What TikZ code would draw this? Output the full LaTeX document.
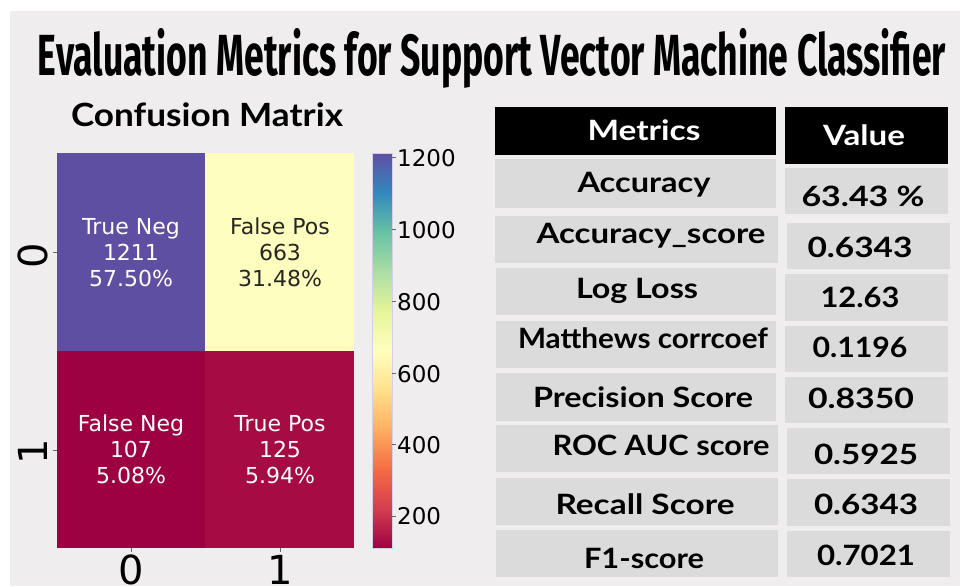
\documentclass[tikz,border=0pt]{standalone}
\usepackage{fontspec}
\usepackage{graphicx}
\setmainfont{DejaVu Sans}
\newfontfamily\titlefont{Fira Sans}
\newfontfamily\tabfont{Lato}

% Spectral colour map stops
\definecolor{sp0}{HTML}{9E0142}
\definecolor{sp1}{HTML}{D53E4F}
\definecolor{sp2}{HTML}{F46D43}
\definecolor{sp3}{HTML}{FDAE61}
\definecolor{sp4}{HTML}{FEE08B}
\definecolor{sp5}{HTML}{FFFFBF}
\definecolor{sp6}{HTML}{E6F598}
\definecolor{sp7}{HTML}{ABDDA4}
\definecolor{sp8}{HTML}{66C2A5}
\definecolor{sp9}{HTML}{3288BD}
\definecolor{sp10}{HTML}{5E4FA2}
\definecolor{tncol}{HTML}{5E4FA2}
\definecolor{fpcol}{HTML}{FEFEBE}
\definecolor{fncol}{HTML}{9E0142}
\definecolor{tpcol}{HTML}{A70B44}
\definecolor{panel}{HTML}{EFEDEE}
\definecolor{cellgray}{HTML}{DCDBDB}
\definecolor{darktext}{HTML}{262626}
\definecolor{barframe}{HTML}{D4CFE3}

\newcommand\fitto[2]{\resizebox{#1pt}{\height}{#2}}

\begin{document}
\begin{tikzpicture}[x=1pt,y=-1pt,
  hmtext/.style={anchor=base,inner sep=0pt,font=\fontsize{22}{26}\selectfont},
  ticklbl/.style={inner sep=0pt,font=\fontsize{40}{44}\selectfont},
  cbarlbl/.style={anchor=base west,inner sep=0pt,font=\fontsize{23}{26}\selectfont},
  tickmark/.style={draw=darktext!70,line width=0.8pt},
  cellbox/.style={fill=cellgray},
  headbox/.style={fill=black},
  tabtext/.style={anchor=base,inner sep=0pt,font=\tabfont\bfseries\fontsize{28}{30}\selectfont},
  headtext/.style={tabtext,text=white}]
\useasboundingbox (0,0) rectangle (960,586);
\fill[white] (0,0) rectangle (960,586);
\fill[panel] (10,11) rectangle (960,586);

% title and subtitle
\node[anchor=base,inner sep=0pt,font=\titlefont\bfseries\fontsize{58}{60}\selectfont]
  (title) at (492,75) {\fitto{908}{Evaluation Metrics for Support Vector Machine Classifier}};
\node[anchor=base,inner sep=0pt,font=\tabfont\bfseries\fontsize{32}{34}\selectfont]
  (cmtitle) at (207,126) {\fitto{272}{Confusion Matrix}};

% confusion matrix cells
\fill[tncol] (57,153) rectangle (205.5,351.5);
\fill[fpcol] (205,153) rectangle (354,351.5);
\fill[fncol] (57,351) rectangle (205.5,548);
\fill[tpcol] (205,351) rectangle (354,548);

\node[hmtext,text=white] (tn1) at (131,234) {True Neg};
\node[hmtext,text=white] (tn2) at (131,260) {1211};
\node[hmtext,text=white] (tn3) at (131,286) {57.50\%};
\node[hmtext,text=darktext] (fp1) at (280,234) {False Pos};
\node[hmtext,text=darktext] (fp2) at (280,260) {663};
\node[hmtext,text=darktext] (fp3) at (280,286) {31.48\%};
\node[hmtext,text=white] (fn1) at (131,431) {False Neg};
\node[hmtext,text=white] (fn2) at (131,457) {107};
\node[hmtext,text=white] (fn3) at (131,483) {5.08\%};
\node[hmtext,text=white] (tp1) at (280,431) {True Pos};
\node[hmtext,text=white] (tp2) at (280,457) {125};
\node[hmtext,text=white] (tp3) at (280,483) {5.94\%};

% axis ticks and labels
\draw[tickmark] (131,548) -- (131,552);
\draw[tickmark] (280,548) -- (280,552);
\draw[tickmark] (53,252) -- (57,252);
\draw[tickmark] (53,450) -- (57,450);
\node[ticklbl,anchor=base] (xt0) at (131,584) {0};
\node[ticklbl,anchor=base] (xt1) at (280,584) {1};
\node[ticklbl,anchor=base,rotate=90] (yt0) at (47,256) {0};
\node[ticklbl,anchor=base,rotate=90] (yt1) at (47,452) {1};

% colour bar
\foreach \i [evaluate=\i as \j using int(\i+1)] in {0,...,9}{
  \shade[bottom color=sp\i, top color=sp\j]
    (372,{min(548,548-39.5*\i+0.3)}) rectangle (392,{max(153,548-39.5*(\i+1)-0.3)});
}
\draw[draw=barframe,line width=0.5pt] (372,153) rectangle (392,548);
\foreach \v/\yy in {1200/157,1000/229,800/301,600/373,400/444,200/516}{
  \draw[tickmark] (392,\yy) -- (396,\yy);
}
\node[cbarlbl] (cb1200) at (397,166) {1200};
\node[cbarlbl] (cb1000) at (397,238) {1000};
\node[cbarlbl] (cb800) at (397,310) {800};
\node[cbarlbl] (cb600) at (397,382) {600};
\node[cbarlbl] (cb400) at (397,453) {400};
\node[cbarlbl] (cb200) at (397,524) {200};

% metrics table: header
\fill[headbox] (495,107) rectangle (776,155);
\fill[headbox] (785,107) rectangle (948,164);
\node[headtext] (hm) at (644,140) {\fitto{113}{Metrics}};
\node[headtext] (hv) at (864,145) {\fitto{82}{Value}};

% metrics table: rows
\fill[cellbox] (495,159) rectangle (776,208);
\fill[cellbox] (785,168) rectangle (948,214);
\node[tabtext] (m1) at (644,192) {\fitto{133}{Accuracy}};
\node[tabtext] (v1) at (863,206) {\fitto{123}{63.43 \%}};

\fill[cellbox] (495,216) rectangle (778,263);
\fill[cellbox] (787,223) rectangle (950,269);
\node[tabtext] (m2) at (651,243) {\fitto{229}{Accuracy\_score}};
\node[tabtext] (v2) at (860,257) {\fitto{105}{0.6343}};

\fill[cellbox] (496,268) rectangle (776,315);
\fill[cellbox] (785,274) rectangle (948,321);
\node[tabtext] (m3) at (637,298) {\fitto{122}{Log Loss}};
\node[tabtext] (v3) at (860,307) {\fitto{79}{12.63}};

\fill[cellbox] (496,321) rectangle (776,368);
\fill[cellbox] (785,326) rectangle (948,372);
\node[tabtext] (m4) at (643,348) {\fitto{250}{Matthews corrcoef}};
\node[tabtext] (v4) at (860,357) {\fitto{95}{0.1196}};

\fill[cellbox] (496,373) rectangle (776,421);
\fill[cellbox] (785,377) rectangle (948,423);
\node[tabtext] (m5) at (643,407) {\fitto{220}{Precision Score}};
\node[tabtext] (v5) at (861,408) {\fitto{106}{0.8350}};

\fill[cellbox] (496,425) rectangle (778,472);
\fill[cellbox] (787,428) rectangle (950,474);
\node[tabtext] (m6) at (661,455) {\fitto{217}{ROC AUC score}};
\node[tabtext] (v6) at (866,464) {\fitto{104}{0.5925}};

\fill[cellbox] (496,478) rectangle (778,525);
\fill[cellbox] (787,479) rectangle (950,526);
\node[tabtext] (m7) at (645,514) {\fitto{179}{Recall Score}};
\node[tabtext] (v7) at (866,514) {\fitto{104}{0.6343}};

\fill[cellbox] (496,530) rectangle (778,577);
\fill[cellbox] (787,531) rectangle (950,577);
\node[tabtext] (m8) at (644,568) {\fitto{120}{F1-score}};
\node[tabtext] (v8) at (866,565) {\fitto{98}{0.7021}};
\end{tikzpicture}
\end{document}
